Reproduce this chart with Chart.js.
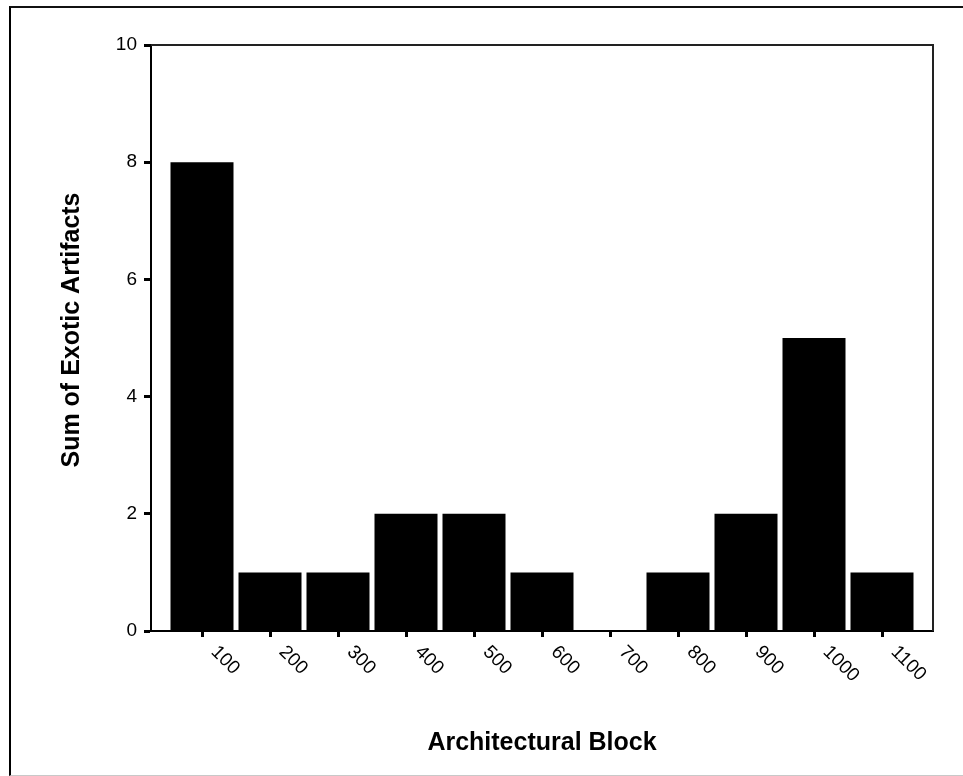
<!DOCTYPE html>
<html>
<head>
<meta charset="utf-8">
<title>Exotic Artifacts by Architectural Block</title>
<script src="https://cdn.jsdelivr.net/npm/chart.js@4.4.1/dist/chart.umd.min.js"></script>
<style>
  html, body { margin: 0; padding: 0; background: #fff; }
  #wrap { position: relative; width: 963px; height: 776px; overflow: hidden; }
  /* outer frame around the chart window */
  #frame {
    position: absolute; left: 9px; top: 6px; width: 1000px; height: 767px;
    border-left: 2px solid #000; border-top: 2px solid #111; border-bottom: 1px solid #c8c8c8;
  }
  canvas { position: absolute; left: 0; top: 0; }
</style>
</head>
<body>
<div id="wrap">
  <div id="frame"></div>
  <canvas id="blockChart" width="963" height="776"></canvas>
</div>
<script>
// Architectural blocks and the summed count of exotic artifacts in each
const blocks = [100, 200, 300, 400, 500, 600, 700, 800, 900, 1000, 1100];
const artifacts = [8, 1, 1, 2, 2, 1, 0, 1, 2, 5, 1];
const countTicks = [0, 2, 4, 6, 8, 10];
const yTitle = 'Sum of Exotic Artifacts';

const FONT = '"Liberation Sans", Arial, sans-serif';

// closes the plot box, writes the block labels slanting down to the right
// and puts the vertical axis title a little above the axis middle
const plotFrame = {
  id: 'plotFrame',
  afterDraw(chart) {
    const { ctx, chartArea: { left, top, right, bottom }, scales: { x } } = chart;
    ctx.save();
    ctx.strokeStyle = '#222';
    ctx.lineWidth = 2;
    ctx.beginPath();
    ctx.moveTo(left, top);
    ctx.lineTo(right, top);
    ctx.lineTo(right, bottom);
    ctx.stroke();

    ctx.fillStyle = '#000';
    ctx.font = '19px ' + FONT;
    ctx.textAlign = 'left';
    ctx.textBaseline = 'middle';
    blocks.forEach(b => {
      const px = x.getPixelForValue(b);
      ctx.save();
      ctx.translate(px + 12, bottom + 18);
      ctx.rotate(Math.PI / 4);
      ctx.fillText(String(b), 0, 0);
      ctx.restore();
    });

    ctx.font = 'bold 25px ' + FONT;
    ctx.textAlign = 'center';
    ctx.translate(72, (top + bottom) / 2 - 8);
    ctx.rotate(-Math.PI / 2);
    ctx.fillText(yTitle, 0, 0);
    ctx.restore();
  }
};

const ctx = document.getElementById('blockChart').getContext('2d');
new Chart(ctx, {
  type: 'bar',
  data: {
    datasets: [{
      data: blocks.map((b, i) => ({ x: b, y: artifacts[i] })),
      backgroundColor: '#000',
      borderWidth: 0,
      barPercentage: 1,
      categoryPercentage: 63 / 68
    }]
  },
  options: {
    responsive: false,
    animation: false,
    devicePixelRatio: 1,
    layout: { padding: { left: 0, top: 45, right: 30, bottom: 0 } },
    plugins: {
      legend: { display: false },
      tooltip: { enabled: false }
    },
    scales: {
      x: {
        type: 'linear',
        min: 25,
        max: 1175,
        offset: false,
        afterBuildTicks: s => { s.ticks = blocks.map(v => ({ value: v })); },
        afterFit: s => { s.height = 145; },
        ticks: { display: false },
        grid: { offset: false, drawOnChartArea: false, drawTicks: true, tickLength: 6, tickWidth: 3, tickColor: '#000' },
        border: { display: true, color: '#000', width: 2 },
        title: {
          display: true,
          text: 'Architectural Block',
          color: '#000',
          font: { family: FONT, size: 25, weight: 'bold' },
          padding: { top: 0, bottom: 18 }
        }
      },
      y: {
        min: 0,
        max: 10,
        afterBuildTicks: s => { s.ticks = countTicks.map(v => ({ value: v })); },
        afterFit: s => { s.width = 151; },
        ticks: { color: '#000', padding: 7, font: { family: FONT, size: 19 } },
        grid: { drawOnChartArea: false, drawTicks: true, tickLength: 7, tickWidth: 3, tickColor: '#000' },
        border: { display: true, color: '#000', width: 2 },
        title: { display: false }
      }
    }
  },
  plugins: [plotFrame]
});
</script>
</body>
</html>
